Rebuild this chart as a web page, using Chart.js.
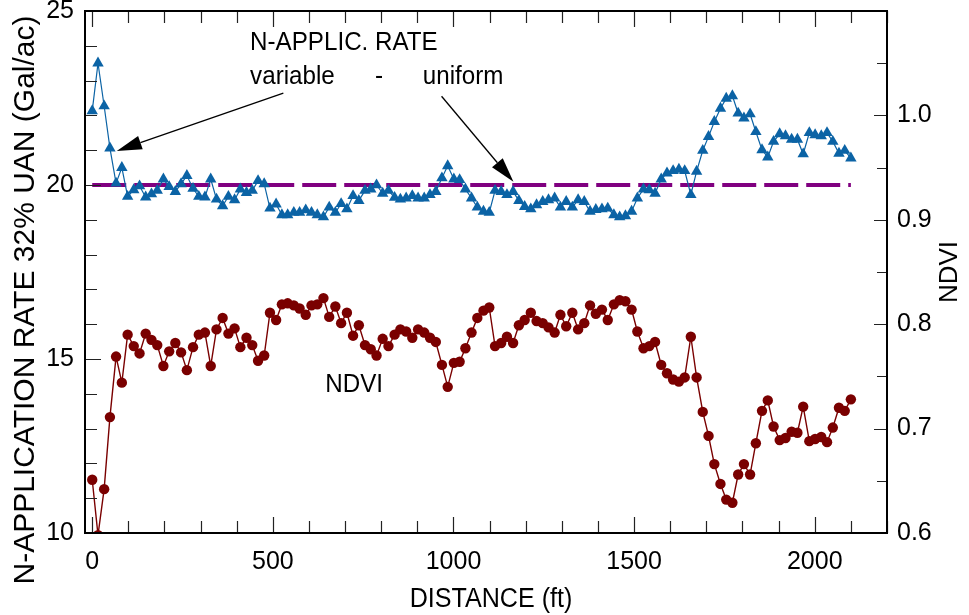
<!DOCTYPE html>
<html>
<head>
<meta charset="utf-8">
<script src="https://cdn.jsdelivr.net/npm/chart.js@4"></script>
<style>
  html, body { margin: 0; padding: 0; background: #fff; }
  #wrap { width: 969px; height: 615px; }
</style>
</head>
<body>
<div id="wrap"><canvas id="chart" width="969" height="615"></canvas></div>
<script>
// sample positions along the pass (every 5 m)
const distanceFt = [0,16,33,49,66,82,98,115,131,148,164,180,197,213,230,246,262,279,295,312,
  328,344,361,377,394,410,427,443,459,476,492,509,525,541,558,574,591,607,623,640,
  656,673,689,705,722,738,755,771,787,804,820,837,853,869,886,902,919,935,951,968,
  984,1001,1017,1033,1050,1066,1083,1099,1115,1132,1148,1165,1181,1197,1214,1230,1247,1263,1280,1296,
  1312,1329,1345,1362,1378,1394,1411,1427,1444,1460,1476,1493,1509,1526,1542,1558,1575,1591,1608,1624,
  1640,1657,1673,1690,1706,1722,1739,1755,1772,1788,1804,1821,1837,1854,1870,1886,1903,1919,1936,1952,
  1968,1985,2001,2018,2034,2050,2067,2083,2100];

// variable N application rate, Gal/ac
const nRate = [22.13,23.5,22.27,21.06,20.05,20.5,19.67,19.86,19.97,19.65,
  19.74,19.84,20.17,19.95,19.81,20.03,20.27,19.9,19.67,19.65,
  20.17,19.59,19.4,19.67,19.57,19.88,19.78,19.84,20.12,20.03,
  19.33,19.45,19.14,19.14,19.21,19.21,19.28,19.21,19.14,19.08,
  19.36,19.21,19.46,19.31,19.69,19.55,19.84,19.88,20.0,19.76,
  19.84,19.64,19.59,19.62,19.69,19.62,19.62,19.72,19.81,20.2,
  20.55,20.17,20.15,19.88,19.62,19.36,19.24,19.21,19.84,19.81,
  19.72,19.81,19.55,19.38,19.31,19.43,19.52,19.57,19.62,19.36,
  19.52,19.36,19.57,19.52,19.24,19.29,19.31,19.33,19.14,19.08,
  19.11,19.24,19.62,19.88,19.86,19.76,20.17,20.34,20.41,20.45,
  20.41,19.72,20.39,20.99,21.39,21.82,22.2,22.49,22.56,22.06,
  21.92,22.04,21.53,21.01,20.8,21.25,21.47,21.41,21.31,21.31,
  20.89,21.5,21.44,21.41,21.5,21.25,20.91,20.99,20.77];

const ndvi = [0.651,0.598,0.642,0.711,0.769,0.744,0.790,0.779,0.772,0.791,
  0.785,0.780,0.760,0.774,0.782,0.773,0.756,0.778,0.790,0.792,
  0.760,0.795,0.806,0.791,0.796,0.778,0.787,0.780,0.765,0.770,
  0.811,0.804,0.819,0.820,0.818,0.815,0.809,0.818,0.819,0.825,
  0.807,0.817,0.801,0.811,0.789,0.799,0.780,0.776,0.770,0.786,
  0.779,0.790,0.795,0.793,0.787,0.795,0.792,0.787,0.783,0.761,
  0.740,0.763,0.764,0.777,0.792,0.806,0.813,0.816,0.779,0.782,
  0.788,0.782,0.799,0.804,0.811,0.803,0.801,0.797,0.792,0.809,
  0.798,0.811,0.795,0.801,0.818,0.810,0.814,0.804,0.819,0.823,
  0.822,0.814,0.793,0.777,0.779,0.783,0.761,0.753,0.747,0.745,
  0.749,0.788,0.749,0.716,0.693,0.666,0.647,0.632,0.629,0.656,
  0.666,0.656,0.686,0.717,0.727,0.702,0.689,0.691,0.697,0.696,
  0.721,0.688,0.690,0.692,0.687,0.701,0.720,0.717,0.728];

const uniformRate = 20;
const uniformSpan = [0, 2100];

const xRange = [-20, 2200];
const yLeftRange = [10, 25];
const yRightRange = [0.6, 1.1];

const leftTitle = 'N-APPLICATION RATE 32% UAN (Gal/ac)';
const rightTitle = 'NDVI';
const bottomTitle = 'DISTANCE (ft)';

// text notes placed in data units (ft, Gal/ac)
const textNotes = [
  { text: 'N-APPLIC. RATE', x: 437, y: 23.89 },
  { text: 'variable', x: 437, y: 22.91 },
  { text: '-', x: 783, y: 22.91 },
  { text: 'uniform', x: 915, y: 22.91 },
  { text: 'NDVI', x: 645, y: 14.06 }
];
const arrowNotes = [
  { from: [529, 22.64], to: [68, 20.98] },
  { from: [967, 22.55], to: [1166, 20.09] }
];

const FONT = '"Liberation Sans", Arial, Helvetica, sans-serif';
const BLUE = '#0b63a5';
const MAROON = '#7a0000';
const PURPLE = '#800080';

function drawText(ctx, s, x, y, size, o) {
  o = o || {};
  ctx.save();
  ctx.translate(x, y);
  if (o.rot) ctx.rotate(o.rot);
  ctx.scale(o.sx || 1, 1);
  ctx.font = size + 'px ' + FONT;
  ctx.fillStyle = '#000';
  ctx.textAlign = o.align || 'left';
  ctx.textBaseline = o.base || 'alphabetic';
  ctx.fillText(s, 0, 0);
  ctx.restore();
}

function drawArrow(ctx, x0, y0, x1, y1) {
  const len = 25, half = 7;
  const dx = x1 - x0, dy = y1 - y0;
  const d = Math.hypot(dx, dy);
  const ux = dx / d, uy = dy / d;
  const bx = x1 - ux * len, by = y1 - uy * len;
  ctx.save();
  ctx.strokeStyle = '#000';
  ctx.fillStyle = '#000';
  ctx.lineWidth = 1.3;
  ctx.beginPath();
  ctx.moveTo(x0, y0);
  ctx.lineTo(bx, by);
  ctx.stroke();
  ctx.beginPath();
  ctx.moveTo(x1, y1);
  ctx.lineTo(bx - uy * half, by + ux * half);
  ctx.lineTo(bx + uy * half, by - ux * half);
  ctx.closePath();
  ctx.fill();
  ctx.restore();
}

// inward ticks, frame, titles and notes
const decorPlugin = {
  id: 'decor',
  afterDatasetsDraw(chart) {
    const ctx = chart.ctx;
    const a = chart.chartArea;
    const sx = chart.scales.x, yl = chart.scales.y, yr = chart.scales.y1;

    ctx.save();
    ctx.strokeStyle = '#222';
    ctx.lineWidth = 1.2;
    ctx.beginPath();
    for (let v = 0; v <= xRange[1]; v += 100) {
      const px = Math.round(sx.getPixelForValue(v)) + 0.5;
      const l = v % 500 === 0 ? 16 : 12;
      ctx.moveTo(px, a.bottom); ctx.lineTo(px, a.bottom - l);
      ctx.moveTo(px, a.top); ctx.lineTo(px, a.top + l);
    }
    for (let v = yLeftRange[0]; v <= yLeftRange[1]; v += 1) {
      const py = Math.round(yl.getPixelForValue(v)) + 0.5;
      const l = v % 5 === 0 ? 16 : 12;
      ctx.moveTo(a.left, py); ctx.lineTo(a.left + l, py);
    }
    for (let k = 12; k <= 22; k++) {
      const v = k * 0.05;
      const py = Math.round(yr.getPixelForValue(v)) + 0.5;
      const l = k % 2 === 0 ? 13 : 10;
      ctx.moveTo(a.right, py); ctx.lineTo(a.right - l, py);
    }
    ctx.stroke();

    ctx.strokeStyle = '#000';
    ctx.lineWidth = 2;
    ctx.strokeRect(a.left, a.top, a.right - a.left, a.bottom - a.top);
    ctx.restore();

    textNotes.forEach(n => {
      drawText(ctx, n.text, sx.getPixelForValue(n.x), yl.getPixelForValue(n.y), 26, { sx: 0.93 });
    });
    arrowNotes.forEach(n => {
      drawArrow(ctx,
        sx.getPixelForValue(n.from[0]), yl.getPixelForValue(n.from[1]),
        sx.getPixelForValue(n.to[0]), yl.getPixelForValue(n.to[1]));
    });

    drawText(ctx, leftTitle, 26, 300, 30, { rot: -Math.PI / 2, align: 'center', base: 'middle' });
    drawText(ctx, rightTitle, 950, 272, 26, { rot: -Math.PI / 2, align: 'center', base: 'middle' });
    drawText(ctx, bottomTitle, 491, 607, 27, { align: 'center', sx: 0.93 });
  }
};

// keep the plot box where the reference has it
function fixBox(size) {
  return s => {
    if (s.isHorizontal()) s.height = size; else s.width = size;
    s.paddingTop = 0; s.paddingBottom = 0;
    s.paddingLeft = 0; s.paddingRight = 0;
  };
}

const ctx = document.getElementById('chart').getContext('2d');
new Chart(ctx, {
  type: 'line',
  data: {
    datasets: [
      {
        label: 'N rate',
        data: distanceFt.map((d, i) => ({ x: d, y: nRate[i] })),
        yAxisID: 'y',
        borderColor: BLUE,
        backgroundColor: BLUE,
        borderWidth: 1.2,
        pointStyle: 'triangle',
        pointRadius: 6.6,
        pointBorderWidth: 0,
        tension: 0,
        order: 1
      },
      {
        label: 'uniform',
        data: uniformSpan.map(d => ({ x: d, y: uniformRate })),
        yAxisID: 'y',
        borderColor: PURPLE,
        borderWidth: 4,
        borderDash: [34, 8],
        pointRadius: 0,
        order: 2
      },
      {
        label: 'NDVI',
        data: distanceFt.map((d, i) => ({ x: d, y: ndvi[i] })),
        yAxisID: 'y1',
        borderColor: MAROON,
        backgroundColor: MAROON,
        borderWidth: 1.4,
        pointStyle: 'circle',
        pointRadius: 5.2,
        pointBorderWidth: 0,
        tension: 0,
        order: 3
      }
    ]
  },
  options: {
    responsive: false,
    animation: false,
    events: [],
    layout: { padding: { top: 11, left: 0, right: 0, bottom: 0 } },
    plugins: { legend: { display: false }, tooltip: { enabled: false } },
    scales: {
      x: {
        type: 'linear',
        min: xRange[0],
        max: xRange[1],
        afterFit: fixBox(82),
        grid: { display: false, drawTicks: false },
        border: { display: false },
        ticks: {
          stepSize: 100,
          includeBounds: false,
          autoSkip: false,
          maxRotation: 0,
          padding: 14,
          color: '#000',
          font: { family: FONT, size: 25 },
          callback: v => (v >= 0 && v % 500 === 0 ? String(v) : '')
        }
      },
      y: {
        position: 'left',
        min: yLeftRange[0],
        max: yLeftRange[1],
        afterFit: fixBox(85),
        grid: { display: false, drawTicks: false },
        border: { display: false },
        ticks: {
          stepSize: 1,
          autoSkip: false,
          padding: 11,
          color: '#000',
          font: { family: FONT, size: 25 },
          callback: v => (v % 5 === 0 ? String(v) : '')
        }
      },
      y1: {
        position: 'right',
        min: yRightRange[0],
        max: yRightRange[1],
        afterFit: fixBox(82),
        grid: { display: false, drawTicks: false },
        border: { display: false },
        ticks: {
          stepSize: 0.05,
          autoSkip: false,
          padding: 10,
          color: '#000',
          font: { family: FONT, size: 25 },
          callback: v => {
            const k = Math.round(v * 100);
            return (k % 10 === 0 && k <= 100) ? (k / 100).toFixed(1) : '';
          }
        }
      }
    }
  },
  plugins: [decorPlugin]
});
</script>
</body>
</html>
